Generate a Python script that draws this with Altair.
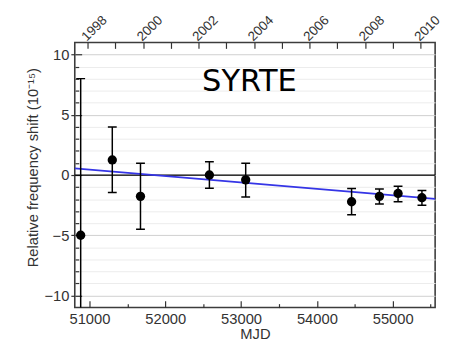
import altair as alt
import pandas as pd

# ---- data ----
mjd = [50884, 51301, 51673, 52582, 53061, 54458, 54825, 55071, 55386]
shift = [-5.0, 1.25, -1.77, 0.0, -0.4, -2.22, -1.77, -1.53, -1.88]
err_hi = [8.0, 3.99, 0.98, 1.1, 0.98, -1.11, -1.16, -0.93, -1.29]
err_lo = [-18.0, -1.45, -4.5, -1.1, -1.83, -3.3, -2.4, -2.22, -2.5]

fit_mjd = [50806, 55560]
fit_shift = [0.55, -1.98]

years = list(range(1998, 2011))
x_major = [51000, 52000, 53000, 54000, 55000]
x_all_ticks = list(range(51000, 55501, 500))
y_ticks = list(range(-10, 11))

label_text = ["SYRTE"]
label_mjd = [53110]
label_shift = [6.95]

X_DOMAIN = [50806, 55560]
Y_DOMAIN = [-11, 11]
YEAR_DOMAIN = [1997.54, 2010.53]

W, H = 367, 270
FONT = "Liberation Sans"
TXT = "#333333"

xs = alt.Scale(domain=X_DOMAIN, nice=False, zero=False)
ys = alt.Scale(domain=Y_DOMAIN, nice=False, zero=False)
yrs = alt.Scale(domain=YEAR_DOMAIN, nice=False, zero=False)

df = pd.DataFrame({"mjd": mjd, "shift": shift, "hi": err_hi, "lo": err_lo})
fit_df = pd.DataFrame({"mjd": fit_mjd, "shift": fit_shift})
yr_df = pd.DataFrame({"year": years})
lab_df = pd.DataFrame({"t": label_text, "mjd": label_mjd, "shift": label_shift})
zero_df = pd.DataFrame({"z": [0]})

base = alt.Chart(df)

# axes: bottom labels + left labels/grid
axes_a = base.mark_point(opacity=0).encode(
    x=alt.X("mjd:Q", scale=xs, axis=alt.Axis(
        values=x_major, format="d", ticks=False, domain=False, grid=False,
        labelFont=FONT, labelFontSize=15, labelColor=TXT, labelPadding=4,
        labelFlush=False, labelOverlap=False,
        title="MJD", titleFont=FONT, titleFontSize=15, titleFontWeight="normal",
        titleColor=TXT, titlePadding=0)),
    y=alt.Y("shift:Q", scale=ys, axis=alt.Axis(
        values=y_ticks, labelExpr="datum.value % 5 === 0 ? datum.label : ''",
        tickSize=4, tickWidth=1.2,
        tickColor={"condition": {"test": "datum.value % 5 === 0", "value": "#333333"}, "value": "rgba(0,0,0,0)"},
        domain=False, grid=True, gridWidth=1,
        gridColor={"condition": {"test": "datum.value % 5 === 0", "value": "#cfcfcf"}, "value": "#ececec"},
        labelFont=FONT, labelFontSize=15, labelColor=TXT, labelPadding=2,
        labelFlush=False, labelOverlap=False,
        title="Relative frequency shift (10⁻¹⁵)", titleFont=FONT, titleFontSize=15,
        titleFontWeight="normal", titleColor=TXT, titleX=-35, titleY=127)),
)

# axes: inward ticks on bottom and left
axes_b = base.mark_point(opacity=0).encode(
    x=alt.X("mjd:Q", scale=xs, axis=alt.Axis(
        orient="top", offset=-H, values=x_all_ticks, labels=False, domain=False,
        grid=False, title=None, tickColor="#333333", tickWidth=1.2,
        tickSize={"condition": {"test": "datum.value % 1000 === 0", "value": 7}, "value": 4})),
    y=alt.Y("shift:Q", scale=ys, axis=alt.Axis(
        orient="right", offset=-W, values=y_ticks, labels=False, domain=False,
        grid=False, title=None, tickColor="#333333", tickWidth=1.2,
        tickSize={"condition": {"test": "datum.value % 5 === 0", "value": 7}, "value": 4})),
)

# top year axis: labels
years_lab = alt.Chart(yr_df).mark_point(opacity=0).encode(
    x=alt.X("year:Q", scale=yrs, axis=alt.Axis(
        orient="top", values=years, format="d",
        labelExpr="datum.value % 2 === 0 ? datum.label : ''",
        ticks=False, domain=False, grid=False, title=None,
        labelAngle=315, labelAlign="left", labelBaseline="middle",
        labelPadding=4, labelOffset=-4, labelFont=FONT, labelFontSize=13.5,
        labelColor=TXT, labelFlush=False, labelOverlap=False, labelBound=False)),
)
# top year axis: inward ticks
years_ticks = alt.Chart(yr_df).mark_point(opacity=0).encode(
    x=alt.X("year:Q", scale=yrs, axis=alt.Axis(
        orient="bottom", offset=-H, values=years, labels=False, domain=False,
        grid=False, title=None, tickColor="#333333", tickWidth=1.2, tickSize=6)),
)

zero = alt.Chart(zero_df).mark_rule(color="black", strokeWidth=1.3).encode(
    y=alt.Y("z:Q", scale=ys, axis=None))

fit = alt.Chart(fit_df).mark_line(color="#3535e6", strokeWidth=1.8, clip=True).encode(
    x=alt.X("mjd:Q", scale=xs, axis=None),
    y=alt.Y("shift:Q", scale=ys, axis=None))

bars = base.mark_rule(color="black", strokeWidth=1.5, clip=True).encode(
    x=alt.X("mjd:Q", scale=xs, axis=None),
    y=alt.Y("lo:Q", scale=ys, axis=None),
    y2="hi:Q")

cap_hi = base.mark_tick(orient="horizontal", size=9, thickness=1.5, color="black",
                        opacity=1, clip=True).encode(
    x=alt.X("mjd:Q", scale=xs, axis=None),
    y=alt.Y("hi:Q", scale=ys, axis=None))
cap_lo = base.mark_tick(orient="horizontal", size=9, thickness=1.5, color="black",
                        opacity=1, clip=True).encode(
    x=alt.X("mjd:Q", scale=xs, axis=None),
    y=alt.Y("lo:Q", scale=ys, axis=None))

pts = base.mark_circle(size=90, color="black", opacity=1).encode(
    x=alt.X("mjd:Q", scale=xs, axis=None),
    y=alt.Y("shift:Q", scale=ys, axis=None))

label = alt.Chart(lab_df).mark_text(font="DejaVu Sans", fontSize=31, align="center",
                                    baseline="alphabetic", color="black").encode(
    x=alt.X("mjd:Q", scale=xs, axis=None),
    y=alt.Y("shift:Q", scale=ys, axis=None),
    text="t:N")

chart = alt.layer(
    axes_a, axes_b, years_lab, years_ticks, zero, fit, bars, cap_hi, cap_lo, pts, label
).resolve_scale(x="independent").resolve_axis(y="independent").properties(
    width=W, height=H,
    autosize=alt.AutoSizeParams(type="none"),
    padding={"left": 68, "top": 32, "right": 7, "bottom": 35},
    background="white",
).configure_view(stroke="#3c3c3c", strokeWidth=1.6)

chart.save("out.html", embed_options={"renderer": "svg", "actions": False})
